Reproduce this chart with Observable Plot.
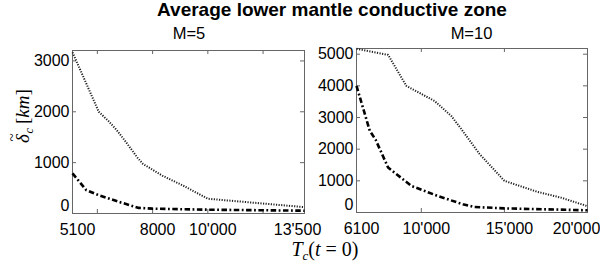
<!DOCTYPE html>
<html><head><meta charset="utf-8">
<script src="https://cdn.jsdelivr.net/npm/d3@7"></script>
<script src="https://cdn.jsdelivr.net/npm/@observablehq/plot@0.6"></script>
<style>
html,body{margin:0;padding:0;background:#fff;}
#wrap{position:relative;width:600px;height:264px;overflow:hidden;}
#wrap > svg{position:absolute;top:0;}
</style></head><body><div id="wrap"></div>
<script>
// ---- data ----
// M=5 panel
const tcM5Dotted = [5100, 6050, 6400, 6700, 7000, 7450, 7650, 8350, 9100, 10000, 13500];
const dM5Dotted  = [3170, 2000, 1820, 1640, 1430, 1100, 975, 745, 550, 290, 125];
const tcM5DashDot = [5100, 5600, 6050, 6800, 7500, 8000, 10000, 13500];
const dM5DashDot  = [790, 460, 360, 225, 110, 95, 75, 55];
// M=10 panel
const tcM10Dotted = [6100, 8000, 9100, 10800, 11800, 12400, 13500, 15000, 17000, 18400, 20000];
const dM10Dotted  = [5170, 4980, 4000, 3520, 3050, 2640, 1850, 1000, 650, 470, 200];
const tcM10DashDot = [6100, 6900, 7250, 8000, 9400, 11000, 12500, 13200, 15000, 20000];
const dM10DashDot  = [4000, 2580, 2300, 1420, 840, 520, 260, 175, 130, 70];

// axes
const xLabelsM5 = [5100, 8000, 10000, 13500];
const xLabelTextM5 = ["5100", "8000", "10'000", "13'500"];
const xTickMarksM5 = [6000, 8000, 10000, 12000];
const yTicksM5 = [0, 1000, 2000, 3000];
const xLabelsM10 = [6100, 10000, 15000, 20000];
const xLabelTextM10 = ["6100", "10'000", "15'000", "20'000"];
const xTickMarksM10 = [10000, 15000, 20000];
const yTicksM10 = [0, 1000, 2000, 3000, 4000, 5000];

const frameColor = "#666";
const font = "'Liberation Sans', Arial, Helvetica, sans-serif";
const serif = "'Liberation Serif','Times New Roman',serif";

function toRows(xs, ys) { return xs.map((x, i) => ({x, y: ys[i]})); }

function panel(o) {
  const fw = o.width - o.ml - o.mr;
  const fh = o.height - o.mt - o.mb;
  const labelMap = new Map(o.xLabels.map((v, i) => [v, o.xLabelText[i]]));
  const lastLabel = o.xLabels[o.xLabels.length - 1];
  const mainLabels = o.xLabels.slice(0, -1);
  const marks = [
    Plot.frame({stroke: frameColor, strokeWidth: 1}),
    Plot.ruleY(o.yTicks, {insetRight: fw - 4, stroke: frameColor}),
    Plot.ruleY(o.yTicks, {insetLeft: fw - 4, stroke: frameColor}),
    Plot.ruleX(o.xTicks, {insetTop: fh - 4, stroke: frameColor}),
    Plot.ruleX(o.xTicks, {insetBottom: fh - 4, stroke: frameColor}),
    Plot.axisY({ticks: o.yTicks.filter(d => d !== 0), tickFormat: d => String(d), tickSize: 0, tickPadding: 3, label: null}),
    Plot.axisY({ticks: [0], tickFormat: d => String(d), tickSize: 0, tickPadding: 3, dy: -8, label: null}),
    Plot.axisX({ticks: mainLabels, tickFormat: d => labelMap.get(d), tickSize: 0, tickPadding: 10, dx: 5, label: null}),
    Plot.axisX({ticks: [lastLabel], tickFormat: d => labelMap.get(d), tickSize: 0, tickPadding: 10, dx: o.lastDx, label: null}),
    Plot.line(toRows(o.dotX, o.dotY), {x: "x", y: "y", stroke: "#222", strokeWidth: 2, strokeDasharray: "1.2,1.4", strokeLinecap: "butt"}),
    Plot.line(toRows(o.ddX, o.ddY), {x: "x", y: "y", stroke: "#000", strokeWidth: 2.6, strokeDasharray: "5.5,2.5,1.8,2.5", strokeLinecap: "butt"})
  ];
  const svg = Plot.plot({
    width: o.width, height: o.height,
    marginLeft: o.ml, marginRight: o.mr, marginTop: o.mt, marginBottom: o.mb,
    x: {domain: o.xDomain},
    y: {domain: o.yDomain},
    style: {fontSize: "16px", fontFamily: font, color: "#000", background: "transparent", overflow: "visible"},
    marks
  });
  svg.style.left = o.left + "px";
  return svg;
}

const wrap = document.getElementById("wrap");
wrap.appendChild(panel({
  left: 0, width: 310, height: 264, ml: 72, mr: 6, mt: 50, mb: 51,
  xDomain: [5100, 13500], yDomain: [0, 3205],
  xLabels: xLabelsM5, xLabelText: xLabelTextM5, lastDx: -7,
  xTicks: xTickMarksM5, yTicks: yTicksM5,
  dotX: tcM5Dotted, dotY: dM5Dotted, ddX: tcM5DashDot, ddY: dM5DashDot
}));
wrap.appendChild(panel({
  left: 300, width: 300, height: 264, ml: 56, mr: 13, mt: 48, mb: 52,
  xDomain: [6100, 20000], yDomain: [0, 5180],
  xLabels: xLabelsM10, xLabelText: xLabelTextM10, lastDx: -11,
  xTicks: xTickMarksM10, yTicks: yTicksM10,
  dotX: tcM10Dotted, dotY: dM10Dotted, ddX: tcM10DashDot, ddY: dM10DashDot
}));

// overlay texts
const ns = "http://www.w3.org/2000/svg";
const ov = document.createElementNS(ns, "svg");
ov.setAttribute("width", 600); ov.setAttribute("height", 264);
ov.style.left = "0px"; ov.style.pointerEvents = "none";
ov.innerHTML = `
<text x="332" y="16" text-anchor="middle" font-family="${font}" font-weight="bold" font-size="19">Average lower mantle conductive zone</text>
<text x="189" y="39.3" text-anchor="middle" font-family="${font}" font-size="16.5">M=5</text>
<text x="471.5" y="38.5" text-anchor="middle" font-family="${font}" font-size="16.5">M=10</text>
<g transform="translate(29,113) rotate(-90)" font-family="${serif}">
  <text x="-30" y="0" font-size="19" font-style="italic">δ</text>
  <text x="-28.5" y="-12" font-size="15">~</text>
  <text x="-20.5" y="4" font-size="12" font-style="italic">c</text>
  <text x="-11" y="0" font-size="19"><tspan>[</tspan><tspan font-style="italic">km</tspan><tspan>]</tspan></text>
</g>
<text x="325" y="256" text-anchor="middle" font-family="${serif}" font-size="20"><tspan font-style="italic">T</tspan><tspan font-style="italic" font-size="13" dy="4">c</tspan><tspan dy="-4">(</tspan><tspan font-style="italic">t</tspan><tspan> = 0)</tspan></text>
`;
wrap.appendChild(ov);
</script>
</body></html>
